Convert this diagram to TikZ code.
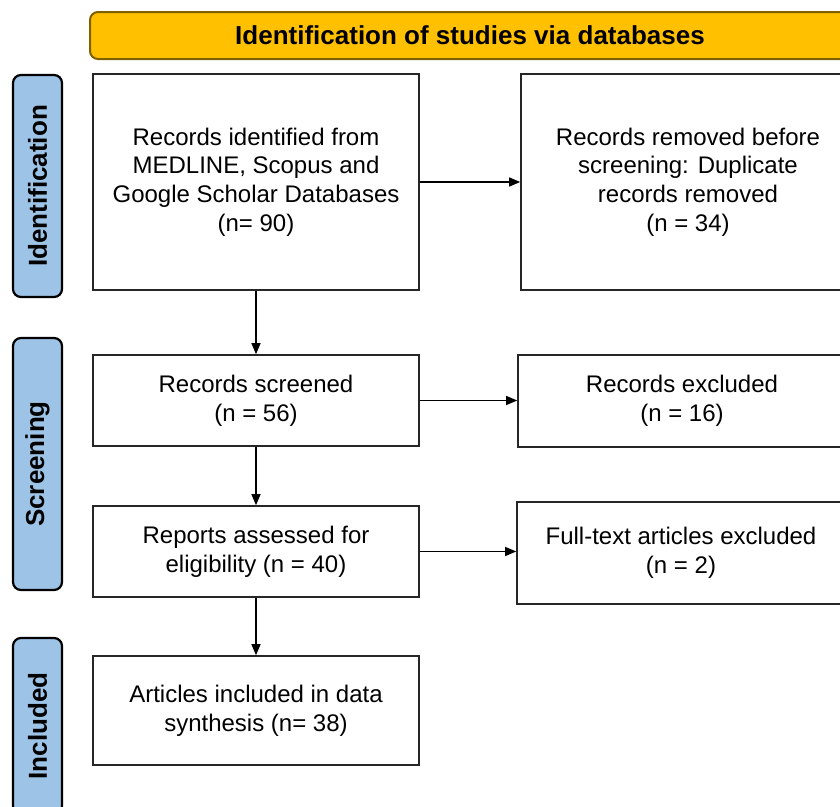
\documentclass[tikz,border=0pt]{standalone}
\usepackage{fontspec}
\setmainfont{Liberation Sans}
\usepackage{xcolor}
\usetikzlibrary{arrows.meta}
\definecolor{gold}{RGB}{255,192,0}
\definecolor{goldline}{RGB}{127,96,0}
\definecolor{phase}{RGB}{157,195,230}

\tikzset{
  box/.style={draw=black!85, line width=1.6pt, inner sep=0pt, align=center,
    font=\fontsize{24}{28.7}\selectfont},
  phasebox/.style={draw=black, fill=phase, line width=2.2pt, rounded corners=8pt,
    rotate=90, minimum height=49pt, inner sep=0pt,
    font=\fontsize{26}{30}\selectfont\bfseries},
  flow/.style={line width=1.2pt, -{Triangle[length=11pt,width=9pt]}}
}

\begin{document}
\begin{tikzpicture}[x=1pt, y=-1pt]
  \clip (0,0) rectangle (840,806);
  \fill[white] (0,0) rectangle (840,806);

  %% Header
  \node[draw=goldline, fill=gold, line width=2pt, rounded corners=8pt,
        minimum width=760pt, minimum height=47pt, inner sep=0pt,
        font=\fontsize{26}{30}\selectfont\bfseries] (head) at (470,35.5)
        {Identification of studies via databases};

  %% Phase labels
  \node[phasebox, minimum width=222pt] (ident) at (37.5,186) {Identification};
  \node[phasebox, minimum width=252pt] (screen) at (37.5,464) {Screening};
  \node[phasebox, minimum width=176pt] (incl) at (37.5,726) {Included};

  %% Main column
  \node[box, minimum width=326pt, minimum height=216pt] (found) at (256,182)
    {Records identified from\\MEDLINE, Scopus and\\Google Scholar Databases\\(n= 90)};
  \node[box, minimum width=326pt, minimum height=91pt] (screened) at (256,400.5)
    {Records screened\\(n = 56)};
  \node[box, minimum width=326pt, minimum height=91pt] (assessed) at (256,551.5)
    {Reports assessed for\\eligibility (n = 40)};
  \node[box, minimum width=326pt, minimum height=109pt] (included) at (256,710.5)
    {Articles included in data\\synthesis (n= 38)};

  %% Exclusions
  \node[box, minimum width=334pt, minimum height=216pt] (dupl) at (688,182)
    {Records removed before\\screening: Duplicate\\records removed\\(n = 34)};
  \node[box, minimum width=328pt, minimum height=92pt] (excl) at (682,401)
    {Records excluded\\(n = 16)};
  \node[box, minimum width=328pt, minimum height=102pt] (fulltext) at (681,553)
    {Full-text articles excluded\\(n = 2)};

  %% Arrows
  \draw[flow] (found.east) -- (dupl.west);
  \draw[flow] (screened.east) -- (screened.east -| excl.west);
  \draw[flow] (assessed.east) -- (assessed.east -| fulltext.west);
  \draw[flow] (found.south) -- (screened.north);
  \draw[flow] (screened.south) -- (assessed.north);
  \draw[flow] (assessed.south) -- (included.north);
\end{tikzpicture}
\end{document}
